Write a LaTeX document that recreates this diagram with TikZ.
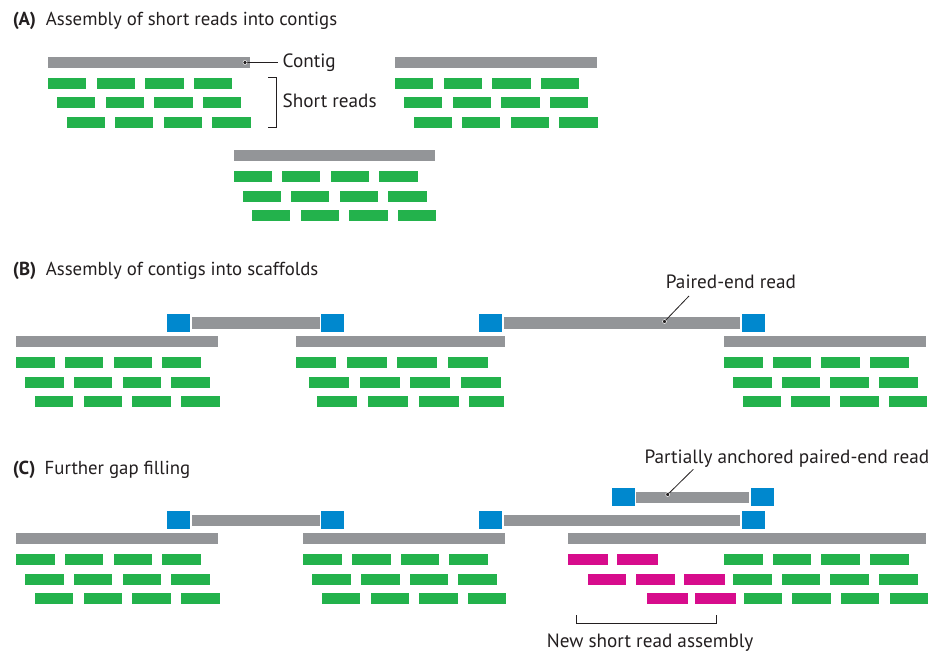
\documentclass[tikz,border=0pt]{standalone}
\usepackage{fontspec}
\setmainfont{PT Sans}
\definecolor{cgray}{HTML}{939598}
\definecolor{cgreen}{HTML}{23B24C}
\definecolor{cblue}{HTML}{0088CE}
\definecolor{cmag}{HTML}{D70C8C}
\definecolor{ctext}{HTML}{231F20}
\tikzset{
  box/.style={draw=none, inner sep=0pt, outer sep=0pt, minimum height=11pt, anchor=north west},
  bar/.style={box, fill=cgray},
  read/.style={box, fill=cgreen},
  newread/.style={box, fill=cmag},
  anchorbox/.style={draw=none, inner sep=0pt, outer sep=0pt, fill=cblue, minimum width=23pt, minimum height=18pt, anchor=west},
  pairbar/.style={draw=none, inner sep=0pt, outer sep=0pt, fill=cgray, minimum height=11pt, anchor=west},
  titlelab/.style={anchor=base west, inner sep=0pt, text=ctext, font=\bfseries\fontsize{18.8}{22}\selectfont},
  titletxt/.style={anchor=base west, inner sep=0pt, text=ctext, font=\fontsize{18.8}{22}\selectfont},
  lab/.style={anchor=base west, inner sep=0pt, text=ctext, font=\fontsize{19.2}{23}\selectfont},
  lead/.style={draw=ctext, line width=0.8pt},
  leaddot/.style={circle, fill=ctext, draw=white, line width=0.5pt, inner sep=0pt, minimum size=4pt}
}
% #1 name, #2 x0, #3 y0, #4 contig width, #5 pitch, #6 read width, #7 row2 offset, #8 row3 offset
\newcommand\contigblock[8]{%
  \node[bar, minimum width=#4pt] (#1c) at (#2,#3) {};
  \foreach \r/\o/\dy in {1/0/21, 2/#7/40.5, 3/#8/60}{
    \foreach \i in {0,...,3}{
      \node[read, minimum width=#6pt] (#1r\r\i) at ({#2+\o+\i*#5},{#3+\dy}) {};
    }
  }%
}
\begin{document}
\begin{tikzpicture}[x=1pt, y=-1pt]
\useasboundingbox[fill=white] (0,0) rectangle (937,652);

% ---------- (A) ----------
\node[titlelab] (tA) at (12.7,26) {(A)};
\node[titletxt] (tAt) at (45.7,26) {Assembly of short reads into contigs};
\contigblock{a1}{48}{57}{201.5}{48.6}{38.3}{9}{18.5}
\contigblock{a2}{395}{57}{201.5}{48.6}{38.3}{9}{18.5}
\contigblock{a3}{233.5}{150.5}{201.5}{48.6}{38.3}{9}{18.5}

\coordinate (cDot) at (245,62.5);
\coordinate (cEnd) at (278,62.5);
\draw[lead] (cDot) -- (cEnd);
\node[leaddot] (cDotN) at (cDot) {};
\node[lab] (cLab) at (282.5,68) {Contig};

\coordinate (brT) at (268,77.5);
\coordinate (brTR) at (276,77.5);
\coordinate (brBR) at (276,127.5);
\coordinate (brB) at (268,127.5);
\draw[lead] (brT) -- (brTR) -- (brBR) -- (brB);
\node[lab] (srLab) at (282.5,108) {Short reads};

% ---------- (B) ----------
\node[titlelab] (tB) at (12.7,276) {(B)};
\node[titletxt] (tBt) at (45.7,276) {Assembly of contigs into scaffolds};
\contigblock{b1}{16}{336}{201.7}{48.8}{38.5}{9}{18.7}
% second contig (wider spacing)
\node[bar, minimum width=209.3pt] (b2c) at (296,336) {};
\foreach \r/\o/\dy in {1/0/21, 2/13/40.5, 3/21.3/60}{
  \foreach \i in {0,...,2}{
    \node[read, minimum width=40pt] (b2r\r\i) at ({296+\o+\i*50.7},{336+\dy}) {};
  }
}
\node[read, minimum width=40pt] (b2r13) at (448,357) {};
\node[read, minimum width=40pt] (b2r23) at (461,376.5) {};
\node[read, minimum width=34.7pt] (b2r33) at (469.3,396) {};
\contigblock{b3}{724}{336}{202}{48.7}{38.5}{9}{18.7}

\node[anchorbox] (p1L) at (167,323) {};
\node[pairbar, minimum width=128pt] (p1M) at (192,323) {};
\node[anchorbox] (p1R) at (321,323) {};
\node[anchorbox] (p2L) at (479.3,323) {};
\node[pairbar, minimum width=236pt] (p2M) at (504,323) {};
\node[anchorbox] (p2R) at (742,323) {};

\node[lab] (peLab) at (665.7,289) {Paired-end read};
\coordinate (peDot) at (664.5,321.5);
\coordinate (peEnd) at (689,296);
\draw[lead] (peDot) -- (peEnd);
\node[leaddot] (peDotN) at (peDot) {};

% ---------- (C) ----------
\node[titlelab] (tC) at (12.7,474) {(C)};
\node[titletxt] (tCt) at (44.5,474) {Further gap filling};
\contigblock{c1}{16}{533.3}{201.7}{48.8}{38.5}{9}{18.7}
\contigblock{c2}{303.3}{533.3}{202}{48.7}{38.5}{9}{18.5}
% third contig with new reads
\node[bar, minimum width=357.7pt] (c3c) at (568.3,533.3) {};
\foreach \r/\o/\dy in {1/0/21, 2/9/40.5, 3/19.5/60}{
  \foreach \i in {0,...,3}{
    \node[read, minimum width=38.5pt] (c3r\r\i) at ({724+\o+\i*48.7},{533.3+\dy}) {};
  }
}
\node[newread, minimum width=39.7pt] (m11) at (568.3,554.3) {};
\node[newread, minimum width=41pt] (m12) at (617,554.3) {};
\node[newread, minimum width=38.6pt] (m21) at (587.7,573.8) {};
\node[newread, minimum width=39pt] (m22) at (635.7,573.8) {};
\node[newread, minimum width=41pt] (m23) at (684.3,573.8) {};
\node[newread, minimum width=41pt] (m31) at (646.7,593.3) {};
\node[newread, minimum width=40.7pt] (m32) at (695,593.3) {};

\node[anchorbox] (q1L) at (167,520) {};
\node[pairbar, minimum width=128pt] (q1M) at (192,520) {};
\node[anchorbox] (q1R) at (321,520) {};
\node[anchorbox] (q2L) at (479.3,520) {};
\node[pairbar, minimum width=236pt] (q2M) at (504,520) {};
\node[anchorbox] (q2R) at (742,520) {};

\node[anchorbox] (q3L) at (611.7,497) {};
\node[pairbar, minimum width=113pt] (q3M) at (636.3,497) {};
\node[anchorbox] (q3R) at (750.7,497) {};

\node[lab] (paLab) at (644.3,463.3) {Partially anchored paired-end read};
\coordinate (paDot) at (667.7,494.5);
\coordinate (paEnd) at (693.3,469.3);
\draw[lead] (paDot) -- (paEnd);
\node[leaddot] (paDotN) at (paDot) {};

\coordinate (nbL) at (576.7,615);
\coordinate (nbLB) at (576.7,623.3);
\coordinate (nbRB) at (716.7,623.3);
\coordinate (nbR) at (716.7,615);
\draw[lead] (nbL) -- (nbLB) -- (nbRB) -- (nbR);
\node[lab] (nsLab) at (546.7,647.3) {New short read assembly};
\end{tikzpicture}
\end{document}
